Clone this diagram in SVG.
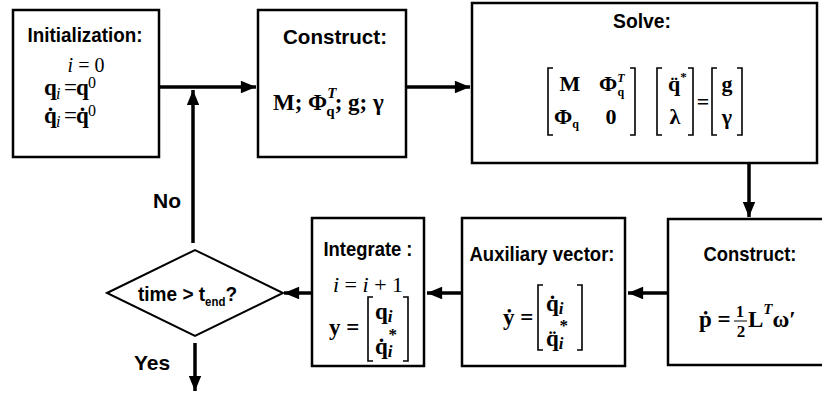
<svg xmlns="http://www.w3.org/2000/svg" width="822" height="394" viewBox="0 0 822 394">
<style>
.box{fill:#fff;stroke:#000;stroke-width:2.5}
.lbl{font-family:"Liberation Sans",Arial,sans-serif;font-weight:bold;fill:#000}
.m{font-family:"Liberation Serif","Times New Roman",serif;fill:#000}
.b{font-weight:bold}
.it{font-style:italic}
.con{fill:none;stroke:#000;stroke-width:3.5}
.br{fill:none;stroke:#000;stroke-width:1.6}
</style>
<defs>
<marker id="ah" viewBox="0 0 12 10" refX="12" refY="5" markerWidth="5" markerHeight="3.6" orient="auto" markerUnits="strokeWidth">
<path d="M0,0 L12,5 L0,10 z" fill="#000"/>
</marker>
</defs>
<rect width="822" height="394" fill="#fff"/>

<g id="connectors">
<line class="con" x1="160" y1="87" x2="256" y2="87" marker-end="url(#ah)"/>
<line class="con" x1="406" y1="87" x2="470" y2="87" marker-end="url(#ah)"/>
<line class="con" x1="193" y1="243" x2="193" y2="90" marker-end="url(#ah)"/>
<line class="con" x1="749" y1="164" x2="749" y2="217" marker-end="url(#ah)"/>
<line class="con" x1="668" y1="293" x2="628" y2="293" marker-end="url(#ah)"/>
<line class="con" x1="462" y1="293" x2="427" y2="293" marker-end="url(#ah)"/>
<line class="con" x1="312" y1="293" x2="284" y2="293" marker-end="url(#ah)"/>
<line class="con" x1="195" y1="343" x2="195" y2="391" stroke-width="2.5" marker-end="url(#ah)"/>
<text class="lbl" x="167" y="208" text-anchor="middle" font-size="21">No</text>
<text class="lbl" x="152" y="370" text-anchor="middle" font-size="21">Yes</text>
</g>

<g id="init">
<rect class="box" x="13" y="10" width="146" height="147"/>
<text class="lbl" x="85" y="42" text-anchor="middle" font-size="21" textLength="115" lengthAdjust="spacingAndGlyphs">Initialization:</text>
<text class="m" x="86" y="72" text-anchor="middle" font-size="20"><tspan class="it">i</tspan> = 0</text>
<text class="m" font-size="23"><tspan class="b" x="44" y="95">q</tspan><tspan class="it" font-size="16" x="56" y="99">i</tspan><tspan x="64" y="95">=</tspan><tspan class="b" x="76" y="95">q</tspan><tspan font-size="16" x="88" y="88">0</tspan></text>
<text class="m" font-size="23"><tspan class="b" x="44" y="123">q̇</tspan><tspan class="it" font-size="16" x="56" y="127">i</tspan><tspan x="64" y="123">=</tspan><tspan class="b" x="76" y="123">q̇</tspan><tspan font-size="16" x="88" y="116">0</tspan></text>
</g>

<g id="construct1">
<rect class="box" x="258" y="10" width="148" height="147"/>
<text class="lbl" x="335" y="44" text-anchor="middle" font-size="21" textLength="104" lengthAdjust="spacingAndGlyphs">Construct:</text>
<text class="m b" x="273" y="110" font-size="23">M; Φ<tspan class="it" font-size="15" dy="-12">T</tspan><tspan font-size="15" dx="-10" dy="18">q</tspan><tspan dy="-6">; g; γ</tspan></text>
</g>

<g id="solve">
<rect class="box" x="472" y="3" width="345" height="160"/>
<text class="lbl" x="642" y="28" text-anchor="middle" font-size="21" textLength="58" lengthAdjust="spacingAndGlyphs">Solve:</text>
<path class="br" d="M553,68 H548 V135 H553"/>
<path class="br" d="M630,68 H635 V135 H630"/>
<text class="m b" x="570" y="91" text-anchor="middle" font-size="22">M</text>
<text class="m b" x="599" y="91" font-size="22">Φ<tspan class="it" font-size="12" dy="-9">T</tspan><tspan font-size="12" dx="-7" dy="14">q</tspan></text>
<text class="m b" x="554" y="124" font-size="22">Φ<tspan font-size="12" dy="4">q</tspan></text>
<text class="m b" x="611" y="124" text-anchor="middle" font-size="22">0</text>
<path class="br" d="M662,68 H657 V135 H662"/>
<path class="br" d="M688,68 H693 V135 H688"/>
<text class="m b" x="668" y="91" font-size="22">q̈<tspan font-size="13" dy="-10">*</tspan></text>
<text class="m b" x="675" y="124" text-anchor="middle" font-size="22">λ</text>
<text class="m b" x="703" y="109" text-anchor="middle" font-size="22">=</text>
<path class="br" d="M717,68 H712 V135 H717"/>
<path class="br" d="M737,68 H742 V135 H737"/>
<text class="m b" x="727" y="91" text-anchor="middle" font-size="22">g</text>
<text class="m b" x="727" y="124" text-anchor="middle" font-size="22">γ</text>
</g>

<g id="construct2">
<rect class="box" x="668" y="219" width="160" height="146"/>
<text class="lbl" x="750" y="261" text-anchor="middle" font-size="21" textLength="93" lengthAdjust="spacingAndGlyphs">Construct:</text>
<text class="m b" x="699" y="327" font-size="23">ṗ =</text>
<text class="m b" x="740" y="317" text-anchor="middle" font-size="16">1</text>
<line x1="734" y1="321" x2="747" y2="321" stroke="#000" stroke-width="1"/>
<text class="m b" x="741" y="337" text-anchor="middle" font-size="17">2</text>
<text class="m b" x="748" y="327" font-size="23">L<tspan class="it" font-size="15" dy="-13">T</tspan><tspan dy="13">ω′</tspan></text>
</g>

<g id="aux">
<rect class="box" x="462" y="218" width="163" height="148"/>
<text class="lbl" x="542" y="261" text-anchor="middle" font-size="21" textLength="145" lengthAdjust="spacingAndGlyphs">Auxiliary vector:</text>
<text class="m b" x="503" y="325" font-size="23">ẏ =</text>
<path class="br" d="M543,285 H538 V350 H543"/>
<path class="br" d="M577,285 H582 V350 H577"/>
<text class="m b" x="546" y="311" font-size="23">q̇<tspan class="it" font-size="17" dy="3">i</tspan></text>
<text class="m b" x="546" y="346" font-size="23">q̈<tspan class="it" font-size="17" dy="3">i</tspan><tspan font-size="17" dx="-4" dy="-18">*</tspan></text>
</g>

<g id="integrate">
<rect class="box" x="312" y="218" width="112" height="148"/>
<text class="lbl" x="368" y="256" text-anchor="middle" font-size="21" textLength="89" lengthAdjust="spacingAndGlyphs">Integrate :</text>
<text class="m" x="368" y="292" text-anchor="middle" font-size="22"><tspan class="it">i</tspan> = <tspan class="it">i</tspan> + 1</text>
<text class="m b" x="329" y="335" font-size="23">y =</text>
<path class="br" d="M373,297 H368 V361 H373"/>
<path class="br" d="M403,297 H408 V361 H403"/>
<text class="m b" x="375" y="319" font-size="23">q<tspan class="it" font-size="17" dy="3">i</tspan></text>
<text class="m b" x="375" y="354" font-size="23">q̇<tspan class="it" font-size="17" dy="3">i</tspan><tspan font-size="17" dx="-4" dy="-17">*</tspan></text>
</g>

<g id="decision">
<polygon points="107,293 195,250 283,293 195,336" fill="#fff" stroke="#000" stroke-width="2"/>
<text class="lbl" x="138" y="301" font-size="20" textLength="99" lengthAdjust="spacingAndGlyphs">time &gt; t<tspan font-size="12" dy="5">end</tspan><tspan dy="-5">?</tspan></text>
</g>
</svg>
